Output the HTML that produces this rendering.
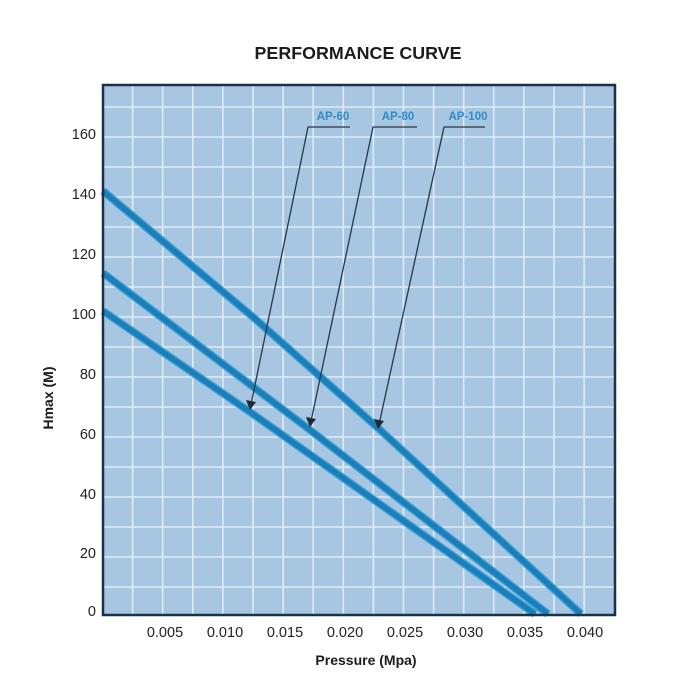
<!DOCTYPE html>
<html>
<head>
<meta charset="utf-8">
<style>
  html,body{margin:0;padding:0;background:#fff;}
  svg{display:block;}
  text{font-family:"Liberation Sans", sans-serif;}
</style>
</head>
<body>
<svg width="700" height="700" viewBox="0 0 700 700" xmlns="http://www.w3.org/2000/svg">
  <rect width="700" height="700" fill="#ffffff"/>
  <text x="358" y="59" text-anchor="middle" font-size="17.5" font-weight="bold" fill="#1c1c1c" textLength="207" lengthAdjust="spacingAndGlyphs">PERFORMANCE CURVE</text>

  <!-- plot area -->
  <rect x="103" y="85" width="512" height="530" fill="#a7c6e2"/>
  <g stroke="#eef5fc" stroke-width="1.6" opacity="0.8">
    <line x1="132.6" y1="85" x2="132.6" y2="615"/>
    <line x1="162.7" y1="85" x2="162.7" y2="615"/>
    <line x1="192.8" y1="85" x2="192.8" y2="615"/>
    <line x1="222.9" y1="85" x2="222.9" y2="615"/>
    <line x1="253" y1="85" x2="253" y2="615"/>
    <line x1="283.1" y1="85" x2="283.1" y2="615"/>
    <line x1="313.2" y1="85" x2="313.2" y2="615"/>
    <line x1="343.3" y1="85" x2="343.3" y2="615"/>
    <line x1="373.4" y1="85" x2="373.4" y2="615"/>
    <line x1="403.5" y1="85" x2="403.5" y2="615"/>
    <line x1="433.6" y1="85" x2="433.6" y2="615"/>
    <line x1="463.7" y1="85" x2="463.7" y2="615"/>
    <line x1="493.8" y1="85" x2="493.8" y2="615"/>
    <line x1="523.9" y1="85" x2="523.9" y2="615"/>
    <line x1="554" y1="85" x2="554" y2="615"/>
    <line x1="584.1" y1="85" x2="584.1" y2="615"/>

    <line x1="103" y1="587" x2="615" y2="587"/>
    <line x1="103" y1="557" x2="615" y2="557"/>
    <line x1="103" y1="527" x2="615" y2="527"/>
    <line x1="103" y1="497" x2="615" y2="497"/>
    <line x1="103" y1="467" x2="615" y2="467"/>
    <line x1="103" y1="437" x2="615" y2="437"/>
    <line x1="103" y1="407" x2="615" y2="407"/>
    <line x1="103" y1="377" x2="615" y2="377"/>
    <line x1="103" y1="347" x2="615" y2="347"/>
    <line x1="103" y1="317" x2="615" y2="317"/>
    <line x1="103" y1="287" x2="615" y2="287"/>
    <line x1="103" y1="257" x2="615" y2="257"/>
    <line x1="103" y1="227" x2="615" y2="227"/>
    <line x1="103" y1="197" x2="615" y2="197"/>
    <line x1="103" y1="167" x2="615" y2="167"/>
    <line x1="103" y1="137" x2="615" y2="137"/>
    <line x1="103" y1="107" x2="615" y2="107"/>
  </g>

  <!-- curves -->
  <g fill="none" stroke-linecap="butt">
    <g stroke="#3d9fd6" stroke-width="8">
      <polyline points="103,191 253,317 378,428 581,614"/>
      <polyline points="103,273 310,430 548,614"/>
      <polyline points="103,311 250,412 535,614"/>
    </g>
    <g stroke="#1a7fb9" stroke-width="5.2">
      <polyline points="103,191 253,317 378,428 581,614"/>
      <polyline points="103,273 310,430 548,614"/>
      <polyline points="103,311 250,412 535,614"/>
    </g>
  </g>

  <!-- border -->
  <rect x="103" y="85" width="512" height="530" fill="none" stroke="#1d3049" stroke-width="2.5"/>

  <!-- annotations -->
  <g font-size="11.5" font-weight="bold" fill="#2f8cc6" text-anchor="middle">
    <text x="333" y="120">AP-60</text>
    <text x="398" y="120">AP-80</text>
    <text x="468" y="120">AP-100</text>
  </g>
  <g stroke="#283646" stroke-width="1.3" fill="none">
    <polyline points="350,127 308,127 251.5,402"/>
    <polyline points="417,127 373,127 311.5,419"/>
    <polyline points="485,127 444,127 379.8,421"/>
  </g>
  <g fill="#1f2a38">
    <polygon points="250,410 246,400 256,402"/>
    <polygon points="310,427 306,417 316,419"/>
    <polygon points="378,429 374,419 384,421"/>
  </g>

  <!-- y ticks -->
  <g font-size="14.5" fill="#222" text-anchor="end">
    <text x="96" y="139">160</text>
    <text x="96" y="199">140</text>
    <text x="96" y="259">120</text>
    <text x="96" y="319">100</text>
    <text x="96" y="379">80</text>
    <text x="96" y="439">60</text>
    <text x="96" y="499">40</text>
    <text x="96" y="558">20</text>
    <text x="96" y="616">0</text>
  </g>

  <!-- x ticks -->
  <g font-size="14.5" fill="#222" text-anchor="middle">
    <text x="165" y="637">0.005</text>
    <text x="225" y="637">0.010</text>
    <text x="285" y="637">0.015</text>
    <text x="345" y="637">0.020</text>
    <text x="405" y="637">0.025</text>
    <text x="465" y="637">0.030</text>
    <text x="525" y="637">0.035</text>
    <text x="585" y="637">0.040</text>
  </g>

  <text x="366" y="665" text-anchor="middle" font-size="14" font-weight="bold" fill="#1c1c1c">Pressure (Mpa)</text>
  <text transform="translate(53,398) rotate(-90)" text-anchor="middle" font-size="14" font-weight="bold" fill="#1c1c1c">Hmax (M)</text>
</svg>
</body>
</html>
